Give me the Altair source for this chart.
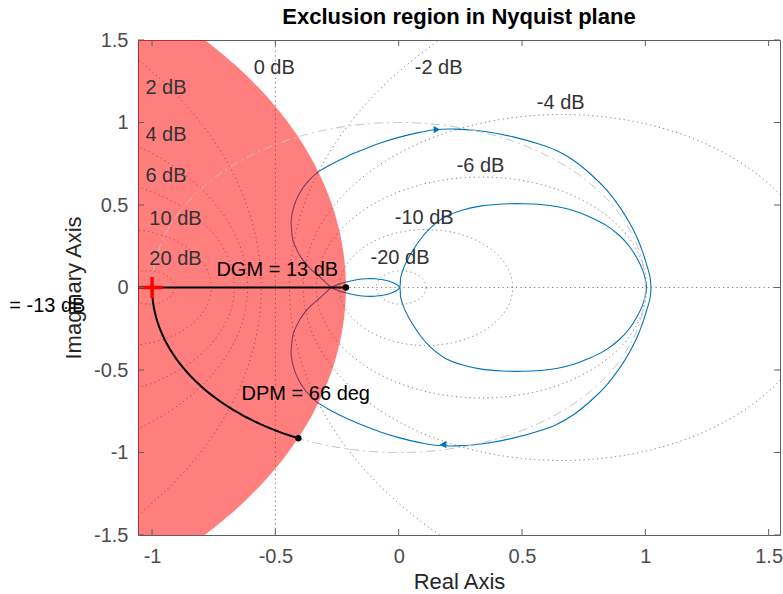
import altair as alt
import numpy as np
import pandas as pd

FONT = "Liberation Sans"
BLUE = "#0072BD"

TITLE = ["Exclusion region in Nyquist plane"]
X_TICKS = [-1, -0.5, 0, 0.5, 1, 1.5]
Y_TICKS = [-1.5, -1, -0.5, 0, 0.5, 1, 1.5]
X_DOMAIN = [-1.057, 1.546]
Y_DOMAIN = [-1.5, 1.5]

# Nyquist branch (upper big loop -> small loop -> inner loop);
# the other branch is its complex conjugate.
NYQ_RE = [1.023, 1.019, 1.005, 0.991, 0.967, 0.937, 0.895, 0.843, 0.78, 0.707,
          0.64, 0.572, 0.464, 0.35, 0.234, 0.146, 0.085, 0.0, -0.077, -0.145,
          -0.212, -0.275, -0.334, -0.372, -0.402, -0.425, -0.436, -0.434, -0.429, -0.412,
          -0.389, -0.357, -0.321, -0.295, -0.273,
          -0.24, -0.199, -0.165, -0.132, -0.098, -0.064, -0.035, -0.01, 0.004,
          0.008, 0.022, 0.04, 0.062, 0.092, 0.128, 0.19, 0.26, 0.33, 0.42,
          0.505, 0.575, 0.645, 0.71, 0.775, 0.84, 0.895, 0.935, 0.965, 0.988,
          1.0, 1.005]
NYQ_IM = [0.0, 0.065, 0.14, 0.207, 0.30, 0.389, 0.49, 0.591, 0.685, 0.773,
          0.83, 0.868, 0.913, 0.945, 0.96, 0.956, 0.94, 0.91, 0.874, 0.835,
          0.793, 0.745, 0.692, 0.635, 0.571, 0.49, 0.409, 0.345, 0.288, 0.225,
          0.167, 0.112, 0.065, 0.03, 0.0,
          -0.022, -0.038, -0.048, -0.053, -0.053, -0.047, -0.036, -0.02, 0.0,
          0.06, 0.125, 0.18, 0.235, 0.3, 0.36, 0.43, 0.47, 0.493, 0.506,
          0.508, 0.503, 0.489, 0.465, 0.428, 0.378, 0.315, 0.25, 0.18, 0.11,
          0.05, 0.0]

ARROW_RE = [0.155, 0.18]
ARROW_IM = [0.957, -0.952]
ARROW_SHAPE = ["triangle-right", "triangle-left"]

# closed-loop magnitude grid (M-circles)
GRID_DB = [20, 10, 6, 4, 2, 0, -2, -4, -6, -10, -20]
LABEL_TEXT = ["20 dB", "10 dB", "6 dB", "4 dB", "2 dB", "0 dB",
              "-2 dB", "-4 dB", "-6 dB", "-10 dB", "-20 dB"]
LABEL_RE = [-1.011, -1.011, -1.027, -1.027, -1.027, -0.588,
            0.065, 0.56, 0.235, -0.016, -0.114]
LABEL_IM = [0.173, 0.415, 0.676, 0.924, 1.212, 1.33,
            1.33, 1.118, 0.736, 0.421, 0.179]

# disk margins
DGM_RE = -0.214
DPM_DEG = 66
DISK_CENTER = -2.463
DISK_RADIUS = 2.249
CRIT_RE, CRIT_IM = -1.0, 0.0

ANNOT_TEXT = ["DGM = 13 dB", "DPM = 66 deg", "= -13 dB"]
ANNOT_RE = [-0.739, -0.637, -1.579]
ANNOT_IM = [0.106, -0.645, -0.11]

# ---------------------------------------------------------------- encodings
xs = alt.Scale(domain=X_DOMAIN, nice=False, zero=False)
ys = alt.Scale(domain=Y_DOMAIN, nice=False, zero=False)
LBL = "datum.value < 0 ? '-' + format(-datum.value, '~g') : format(datum.value, '~g')"
xaxis = alt.Axis(values=X_TICKS, title="Real Axis", grid=False, ticks=False, domain=False,
                 labelExpr=LBL, labelFont=FONT, labelFontSize=20, labelColor="#4d4d4d",
                 labelPadding=11, labelFlush=False, labelOverlap=False,
                 titleFont=FONT, titleFontSize=22, titleFontWeight="normal",
                 titleColor="#262626", titlePadding=5)
yaxis = alt.Axis(values=Y_TICKS, title="Imaginary Axis", grid=False, ticks=False, domain=False,
                 labelExpr=LBL, labelFont=FONT, labelFontSize=20, labelColor="#4d4d4d",
                 labelPadding=10, labelFlush=False, labelOverlap=False,
                 titleFont=FONT, titleFontSize=22, titleFontWeight="normal",
                 titleColor="#262626", titlePadding=8)


def X(f="x"):
    return alt.X(f + ":Q", scale=xs, axis=xaxis)


def Y(f="y"):
    return alt.Y(f + ":Q", scale=ys, axis=yaxis)


# ---------------------------------------------------------------- data frames
rows = []
for db in GRID_DB:
    if db == 0:
        for k, t in enumerate([Y_DOMAIN[0] - 1, Y_DOMAIN[1] + 1]):
            rows.append(dict(id="0", k=k, x=-0.5, y=t))
    else:
        m2 = 10 ** (db / 10)
        c = -m2 / (m2 - 1)
        r = abs(np.sqrt(m2) / (m2 - 1))
        for k, t in enumerate(np.linspace(0, 2 * np.pi, 721)):
            rows.append(dict(id=str(db), k=k, x=c + r * np.cos(t), y=r * np.sin(t)))
for k, xv in enumerate(X_DOMAIN):
    rows.append(dict(id="real", k=k, x=xv, y=0.0))
grid_df = pd.DataFrame(rows)

nyq_rows = []
for k, (a, b) in enumerate(zip(NYQ_RE, NYQ_IM)):
    nyq_rows.append(dict(br="A", k=k, x=a, y=b))
    nyq_rows.append(dict(br="B", k=k, x=a, y=-b))
nyq_df = pd.DataFrame(nyq_rows)

disk_y = np.linspace(-DISK_RADIUS, DISK_RADIUS, 601)
half = np.sqrt(np.clip(DISK_RADIUS ** 2 - disk_y ** 2, 0, None))
disk_df = pd.DataFrame(dict(y=disk_y, x=DISK_CENTER + half, x2=DISK_CENTER - half))

th = np.linspace(0, 2 * np.pi, 721)
unit_df = pd.DataFrame(dict(k=np.arange(len(th)), x=np.cos(th), y=np.sin(th)))

ph = np.radians(np.linspace(180, 180 + DPM_DEG, 120))
dpm_df = pd.DataFrame(dict(k=np.arange(len(ph)), x=np.cos(ph), y=np.sin(ph)))
dgm_df = pd.DataFrame(dict(k=[0, 1], x=[X_DOMAIN[0], DGM_RE], y=[0.0, 0.0]))

dots_df = pd.DataFrame(dict(x=[DGM_RE, np.cos(ph[-1])], y=[0.0, np.sin(ph[-1])]))
crit_df = pd.DataFrame(dict(x=[CRIT_RE], y=[CRIT_IM]))
arrow_df = pd.DataFrame(dict(x=ARROW_RE, y=ARROW_IM, s=ARROW_SHAPE))
lab_df = pd.DataFrame(dict(x=LABEL_RE, y=LABEL_IM, t=LABEL_TEXT))
ann_df = pd.DataFrame(dict(x=ANNOT_RE, y=ANNOT_IM, t=ANNOT_TEXT))
xt_df = pd.DataFrame(dict(v=X_TICKS))
yt_df = pd.DataFrame(dict(v=Y_TICKS))
title_df = pd.DataFrame(dict(t=TITLE))

# ---------------------------------------------------------------- layers
grid = alt.Chart(grid_df).mark_line(
    clip=True, color="#7a7a7a", strokeWidth=1, strokeDash=[1.2, 3.3]
).encode(x=X(), y=Y(), detail="id:N", order="k:Q")

nyq = alt.Chart(nyq_df).mark_line(
    clip=True, color=BLUE, strokeWidth=1.1, interpolate="catmull-rom"
).encode(x=X(), y=Y(), detail="br:N", order="k:Q")

disk = alt.Chart(disk_df).mark_area(
    clip=True, orient="horizontal", color="#ff0000", opacity=0.5
).encode(x=X(), x2="x2:Q", y=Y())

unit = alt.Chart(unit_df).mark_line(
    clip=True, color="#c4c4c4", strokeWidth=1, strokeDash=[9, 4, 2, 4]
).encode(x=X(), y=Y(), order="k:Q")

dgm = alt.Chart(dgm_df).mark_line(clip=True, color="black", strokeWidth=2).encode(
    x=X(), y=Y(), order="k:Q")
dpm = alt.Chart(dpm_df).mark_line(clip=True, color="black", strokeWidth=2).encode(
    x=X(), y=Y(), order="k:Q")

dots = alt.Chart(dots_df).mark_point(filled=True, color="black", size=40, opacity=1).encode(
    x=X(), y=Y())

crit = alt.Chart(crit_df).mark_point(
    shape="M-1,0L1,0M0,-1L0,1", filled=False, color="#ff0000", strokeWidth=3.5,
    size=440, opacity=1
).encode(x=X(), y=Y())

arrows = alt.Chart(arrow_df).mark_point(filled=True, color=BLUE, size=55, opacity=1).encode(
    x=X(), y=Y(), shape=alt.Shape("s:N", scale=None))

labels = alt.Chart(lab_df).mark_text(
    align="left", baseline="middle", font=FONT, fontSize=20, color="#333333"
).encode(x=X(), y=Y(), text="t:N")

annots = alt.Chart(ann_df).mark_text(
    align="left", baseline="middle", font=FONT, fontSize=20, color="black"
).encode(x=X(), y=Y(), text="t:N")

title = alt.Chart(title_df).mark_text(
    align="center", baseline="middle", font=FONT, fontSize=22, fontWeight="bold",
    color="black"
).encode(x=alt.value(321), y=alt.value(-23), text="t:N")

TK = "#5f5f5f"
xt_bot = alt.Chart(xt_df).mark_rule(color=TK, strokeWidth=1).encode(
    x=X("v"), y=alt.value(495), y2=alt.value(489))
xt_top = alt.Chart(xt_df).mark_rule(color=TK, strokeWidth=1).encode(
    x=X("v"), y=alt.value(0), y2=alt.value(6))
yt_left = alt.Chart(yt_df).mark_rule(color=TK, strokeWidth=1).encode(
    y=Y("v"), x=alt.value(0), x2=alt.value(6))
yt_right = alt.Chart(yt_df).mark_rule(color=TK, strokeWidth=1).encode(
    y=Y("v"), x=alt.value(642), x2=alt.value(636))

chart = alt.layer(
    grid, nyq, disk, unit, dgm, dpm, dots, crit, arrows, labels, annots, title,
    xt_bot, xt_top, yt_left, yt_right
).properties(
    width=642, height=495,
    autosize=alt.AutoSizeParams(type="none"),
    padding={"left": 138, "top": 40, "right": 3, "bottom": 59},
    background="white",
).configure_view(stroke=TK, strokeWidth=1)

chart.save("out.html", embed_options={"renderer": "svg", "actions": False})
